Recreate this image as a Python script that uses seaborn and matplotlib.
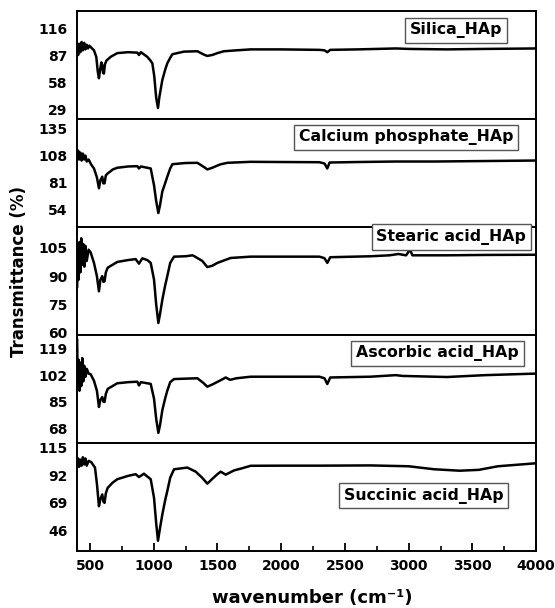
import matplotlib
matplotlib.use("Agg")
import matplotlib.pyplot as plt
import seaborn as sns
import pandas as pd
from matplotlib.ticker import MultipleLocator, FixedLocator

# ---------------- data ----------------
labels = ["Silica_HAp", "Calcium phosphate_HAp", "Stearic acid_HAp",
          "Ascorbic acid_HAp", "Succinic acid_HAp"]

silica_wn = [400, 408, 415, 425, 435, 445, 455, 465, 475, 485, 495, 510, 532, 550, 562, 571, 580, 590,
             597, 603, 610, 618, 630, 663, 715, 800, 872, 885, 900, 950, 975, 990, 1005, 1020, 1034,
             1045, 1068, 1090, 1107, 1130, 1147, 1238, 1343, 1400, 1421, 1460, 1500, 1551, 1650, 1761,
             2000, 2300, 2340, 2362, 2385, 2600, 2900, 3000, 3300, 3600, 4000]
silica_t = [95, 88, 100, 91, 102, 93, 101, 94, 99, 95, 98, 96, 93, 86, 70, 63, 72, 80,
            77, 69, 68, 78, 82, 86, 90, 91, 90.5, 88, 91, 86, 82, 79, 65, 42, 31,
            43, 61, 72, 79, 85, 88.8, 91.6, 92, 88, 87, 88, 90, 92, 93, 94,
            94, 93.5, 93, 91, 93.5, 94, 95, 94.5, 94, 94.5, 95]

calcium_wn = [400, 408, 415, 425, 435, 445, 455, 465, 475, 490, 510, 532, 555, 571, 582, 597, 605, 615,
              625, 640, 680, 715, 800, 872, 885, 900, 977, 1003, 1020, 1037, 1050, 1068, 1090, 1107,
              1130, 1147, 1250, 1343, 1400, 1421, 1460, 1520, 1578, 1761, 2000, 2300, 2340, 2362, 2380,
              2600, 2900, 3200, 3600, 4000]
calcium_t = [108, 113, 104, 111, 103, 110, 104, 108, 102, 104, 99, 95, 86, 75, 83, 86.7, 80, 80,
             88, 90, 94, 95.7, 97, 97.3, 95, 97, 95, 78, 62, 50, 58, 71.7, 80, 86.7,
             95, 99.3, 100.5, 100.7, 96, 94, 95.7, 99, 100.7, 101.7, 101.5, 101.3, 100, 95, 101,
             101.5, 102, 102, 102.5, 103]

stearic_wn = [400, 405, 410, 418, 425, 432, 440, 448, 456, 465, 475, 490, 506, 532, 555, 571, 582, 597,
              606, 615, 625, 640, 715, 800, 859, 885, 911, 950, 977, 1003, 1020, 1037, 1050, 1068,
              1090, 1107, 1130, 1160, 1250, 1304, 1320, 1382, 1421, 1460, 1500, 1604, 1761, 2000,
              2300, 2340, 2362, 2385, 2700, 2850, 2920, 2980, 3010, 3030, 3300, 3600, 4000]
stearic_t = [84, 104, 88, 108, 92, 110, 96, 107, 95, 106, 98, 104, 102.5, 97, 90, 82, 88, 90,
             87, 87.3, 92, 94.5, 97.5, 98.5, 99, 96.6, 99.4, 98.5, 97, 88.2, 75, 65.3, 70, 77.5,
             85, 90, 97, 100.3, 100.5, 101, 100.5, 98, 94.8, 95.5, 97, 99.6, 100.3, 100.3,
             100.3, 99.5, 97, 100, 100.5, 101, 101.7, 101, 104, 101, 101, 101.2, 101.3]

ascorbic_wn = [400, 405, 410, 418, 425, 432, 440, 448, 456, 466, 476, 490, 506, 532, 555, 571, 582, 597,
               606, 615, 625, 640, 715, 800, 872, 885, 900, 977, 1003, 1020, 1037, 1050, 1068, 1090,
               1107, 1130, 1160, 1343, 1390, 1421, 1460, 1520, 1565, 1600, 1650, 1761, 2000, 2300,
               2340, 2362, 2385, 2700, 2900, 2950, 3300, 3600, 4000]
ascorbic_t = [125, 95, 112, 92, 110, 95, 113, 98, 108, 101, 106, 103, 102.6, 98.4, 92, 81.6, 86, 88,
              85, 84.8, 90, 93.2, 96.8, 97.5, 97.8, 95.4, 97.5, 96.4, 86.9, 74, 65, 70, 79.5, 87,
              92, 97.5, 99.5, 100, 97, 94.6, 96, 98.5, 100.5, 99, 100, 101, 101, 101,
              100, 96.3, 100.5, 101, 102, 101.5, 100.8, 102, 103]

succinic_wn = [400, 408, 415, 425, 435, 445, 455, 465, 475, 490, 510, 540, 555, 571, 582, 597, 606, 615,
               625, 640, 680, 715, 800, 859, 885, 924, 950, 977, 1003, 1020, 1034, 1050, 1068, 1090,
               1107, 1130, 1160, 1264, 1330, 1380, 1421, 1460, 1500, 1526, 1565, 1630, 1700, 1761,
               2000, 2300, 2700, 3000, 3200, 3400, 3550, 3700, 4000]
succinic_t = [100, 106, 99, 105, 100, 107, 101, 106, 100, 104, 103, 98.4, 85, 66.2, 72, 76, 70, 69,
              77, 81.6, 86, 88.7, 91.5, 92.9, 90.5, 93.3, 91, 88.7, 73.2, 52, 37.4, 48, 59.2, 71,
              78.8, 90, 97, 98.4, 95, 90, 85, 89, 92.9, 95, 92.5, 96, 98, 99.9,
              100, 100, 100.2, 99.5, 97, 95.8, 96.5, 99.5, 102]

y_ticks = [[29, 58, 87, 116], [54, 81, 108, 135], [60, 75, 90, 105],
           [68, 85, 102, 119], [46, 69, 92, 115]]
y_limits = [(19.3, 135.3), (36, 145), (59, 116), (58.6, 127.8), (29, 119)]
x_major = [500, 1000, 1500, 2000, 2500, 3000, 3500, 4000]

series = [(silica_wn, silica_t), (calcium_wn, calcium_t), (stearic_wn, stearic_t),
          (ascorbic_wn, ascorbic_t), (succinic_wn, succinic_t)]

# label box centres in axes fraction
label_pos = [(0.826, 0.82), (0.717, 0.83), (0.815, 0.905), (0.785, 0.83), (0.755, 0.51)]

# ---------------- plotting ----------------
sns.set_style("white")
plt.rcParams['font.family'] = ['DejaVu Sans']
plt.rcParams['font.weight'] = 'bold'
plt.rcParams['text.color'] = 'black'
plt.rcParams['xtick.color'] = 'black'
plt.rcParams['ytick.color'] = 'black'
plt.rcParams['axes.labelcolor'] = 'black'

fig, axes = plt.subplots(5, 1, figsize=(5.55, 6.08), dpi=100, sharex=True)
fig.subplots_adjust(left=0.139, right=0.966, top=0.982, bottom=0.094, hspace=0)

for i, ax in enumerate(axes):
    wn, t = series[i]
    df = pd.DataFrame({"wn": wn, "T": t})
    sns.lineplot(data=df, x="wn", y="T", ax=ax, color="black", linewidth=1.8, sort=False)
    ax.set_xlim(400, 4000)
    ax.set_ylim(*y_limits[i])
    ax.yaxis.set_major_locator(FixedLocator(y_ticks[i]))
    ax.set_yticklabels([str(v) for v in y_ticks[i]], fontsize=10, fontweight='bold', color='black')
    ax.tick_params(axis='y', length=0, pad=7)
    ax.set_xlabel("")
    ax.set_ylabel("")
    for sp in ax.spines.values():
        sp.set_visible(True)
        sp.set_color("black")
        sp.set_linewidth(1.4)
    ax.text(label_pos[i][0], label_pos[i][1], labels[i], transform=ax.transAxes,
            ha='center', va='center', fontsize=11.3, fontweight='bold', color='black',
            bbox=dict(boxstyle='square,pad=0.3', facecolor='white', edgecolor='#555555',
                      linewidth=1.0))
    if i < 4:
        ax.tick_params(axis='x', which='both', length=0, labelbottom=False)

bottom = axes[-1]
bottom.xaxis.set_major_locator(FixedLocator(x_major))
bottom.xaxis.set_minor_locator(MultipleLocator(250))
bottom.set_xticklabels([str(v) for v in x_major], fontsize=10, fontweight='bold', color='black')
bottom.tick_params(axis='x', which='major', direction='in', length=6, width=1.3, pad=6)
bottom.tick_params(axis='x', which='minor', direction='in', length=3.5, width=1.2)
bottom.tick_params(axis='x', which='both', bottom=True, top=False)

fig.text(0.562, 0.0165, "wavenumber (cm\u207b\u00b9)", ha='center', va='center',
         fontsize=13, fontweight='bold', color='black')
fig.text(0.034, 0.553, "Transmittance (%)", ha='center', va='center', rotation=90,
         fontsize=12, fontweight='bold', color='black')

fig.savefig("out.png", dpi=100)
